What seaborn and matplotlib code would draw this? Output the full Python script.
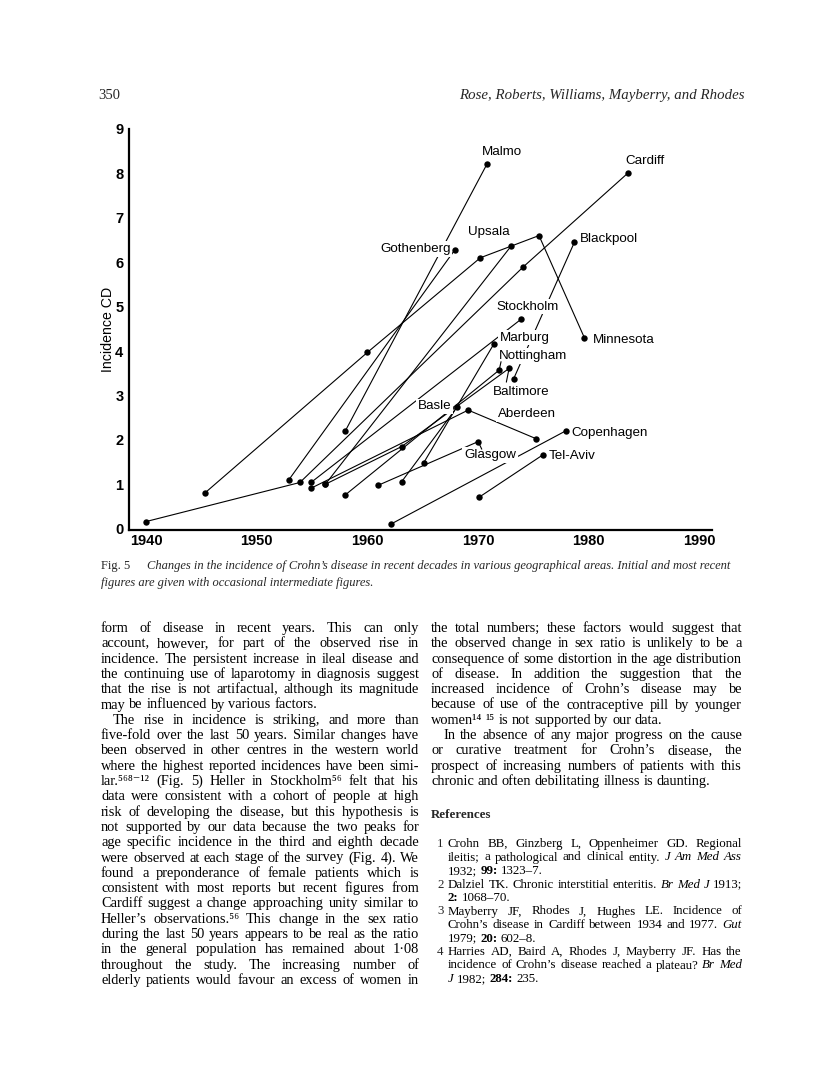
import numpy as np
import pandas as pd
import matplotlib
matplotlib.use("Agg")
import matplotlib.pyplot as plt
import seaborn as sns
from matplotlib import font_manager

# ---- values (year, incidence per 100 000) ----
cities = ["Cardiff", "Minnesota", "Gothenberg", "Malmo", "Upsala", "Stockholm",
          "Aberdeen", "Baltimore", "Nottingham", "Basle", "Marburg", "Blackpool",
          "Glasgow", "Copenhagen", "Tel-Aviv"]
years = [
    [1940, 1953.9, 1974.1, 1983.5],
    [1945.3, 1960, 1970.2, 1975.5, 1979.6],
    [1952.9, 1967.9],
    [1958, 1970.8],
    [1956.2, 1973],
    [1954.9, 1973.9],
    [1954.9, 1969.1, 1975.2],
    [1956.2, 1963.1, 1972.8],
    [1958, 1971.9],
    [1963.1, 1968.1],
    [1965.1, 1971.4],
    [1973.2, 1978.7],
    [1961, 1970],
    [1962.1, 1977.9],
    [1970.1, 1975.9],
]
incidence = [
    [0.16, 1.04, 5.9, 8.0],
    [0.8, 3.97, 6.1, 6.6, 4.3],
    [1.1, 6.28],
    [2.2, 8.21],
    [1.0, 6.37],
    [1.04, 4.72],
    [0.91, 2.67, 2.03],
    [1.0, 1.85, 3.61],
    [0.76, 3.57],
    [1.06, 2.74],
    [1.49, 4.15],
    [3.37, 6.45],
    [0.98, 1.96],
    [0.1, 2.2],
    [0.71, 1.67],
]
x_ticks = [1940, 1950, 1960, 1970, 1980, 1990]
y_ticks = list(range(10))

# where the city names sit (left edge, middle), in data units
label_pos = {
    "Malmo": (1970.33, 8.49), "Cardiff": (1983.27, 8.29), "Upsala": (1969.09, 6.69),
    "Gothenberg": (1961.14, 6.30), "Blackpool": (1979.2, 6.53),
    "Stockholm": (1971.68, 5.0), "Marburg": (1971.98, 4.30),
    "Minnesota": (1980.35, 4.25), "Nottingham": (1971.89, 3.89),
    "Baltimore": (1971.37, 3.07), "Basle": (1964.57, 2.76),
    "Aberdeen": (1971.8, 2.58), "Copenhagen": (1978.46, 2.15),
    "Glasgow": (1968.73, 1.66), "Tel-Aviv": (1976.4, 1.64),
}
# short leader strokes from a dot to its name
leaders = {
    "Nottingham": ((1971.9, 3.57), (1972.07, 3.76)),
    "Baltimore": ((1972.8, 3.61), (1972.55, 3.30)),
    "Glasgow": ((1970.0, 1.96), (1970.33, 1.79)),
}

rows = []
for city, xs, ys in zip(cities, years, incidence):
    for i, (xv, yv) in enumerate(zip(xs, ys)):
        rows.append({"city": city, "order": i, "year": xv, "incidence": yv})
df = pd.DataFrame(rows)

# ---- fonts ----
sns.set_theme(style="white")
names = {f.name for f in font_manager.fontManager.ttflist}
narrow = "Liberation Sans Narrow" if "Liberation Sans Narrow" in names else "Liberation Sans"
serif = ["Liberation Serif", "DejaVu Serif"]
plt.rcParams["font.family"] = ["Liberation Sans", "DejaVu Sans"]

W, H = 816, 1075
fig = plt.figure(figsize=(W / 100, H / 100), dpi=100)
fig.patch.set_facecolor("white")

# ---- the chart ----
ax = fig.add_axes([129 / W, 1 - 530 / H, (712 - 129) / W, (530 - 129) / H])
sns.lineplot(data=df, x="year", y="incidence", units="city", estimator=None,
             sort=False, color="black", lw=0.8, marker="o", markersize=4.6,
             markeredgewidth=0, ax=ax, legend=False, zorder=2)
for city, (p0, p1) in leaders.items():
    ax.plot([p0[0], p1[0]], [p0[1], p1[1]], color="black", lw=0.8, zorder=6)
for city, (lx, ly) in label_pos.items():
    ax.text(lx, ly, city, fontsize=9.6, ha="left", va="center", color="black",
            zorder=5, bbox=dict(boxstyle="square,pad=0.12", fc="white", ec="none"))

ax.set_xlim(1938.46, 1991.13)
ax.set_ylim(-0.03, 9.0)
ax.set_xticks(x_ticks)
ax.set_yticks(y_ticks)
ax.set_xticklabels([str(t) for t in x_ticks], family=narrow, weight="bold", fontsize=10.5)
ax.set_yticklabels([str(t) for t in y_ticks], family=narrow, weight="bold", fontsize=10.5)
ax.tick_params(axis="both", direction="out", length=2.5, width=1.0, color="black",
               pad=1.5, labelcolor="black")
ax.tick_params(axis="x", length=0, pad=3)
sns.despine(ax=ax)
for s in ("left", "bottom"):
    ax.spines[s].set_linewidth(1.6)
    ax.spines[s].set_color("black")
ax.set_xlabel("")
ax.set_ylabel("Incidence CD", fontsize=10.2, color="black")
ax.yaxis.set_label_coords(-0.024, 0.5)
ax.set_facecolor("none")

# ---- the page around it ----
page = fig.add_axes([0, 0, 1, 1], zorder=-1)
page.set_xlim(0, W)
page.set_ylim(H, 0)
page.axis("off")
renderer = fig.canvas.get_renderer()

STY = {"": {}, "~": {"style": "italic"}, "#": {"weight": "bold"}}


def width(txt, size, sty):
    t = page.text(0, 0, txt, fontsize=size, family=serif, **sty)
    w = t.get_window_extent(renderer).width
    t.remove()
    return w


def put_line(x0, x1, y, line, size, justify=True):
    words = []
    for w in line.split(" "):
        key = w[0] if w[0] in "~#" else ""
        words.append((w[len(key):], STY[key]))
    while True:
        ws = [width(w, size, s) for w, s in words]
        space = 0.25 * size * 100 / 72
        gap = space
        if justify and len(words) > 1:
            gap = (x1 - x0 - sum(ws)) / (len(words) - 1)
        if gap >= 0.5 * space:
            break
        size *= 0.98  # squeeze an over-full line a little
    x = x0
    for (w, s), wd in zip(words, ws):
        page.text(x, y, w, fontsize=size, family=serif, va="baseline", ha="left",
                  color="black", **s)
        x += wd + gap


def fit_size(txt, target, sty):
    return 10 * target / width(txt, 10, sty)


# running head
page.text(98, 99, "350", fontsize=10.5, family=serif, va="baseline", ha="left")
head = "Rose, Roberts, Williams, Mayberry, and Rhodes"
page.text(745, 99, head, fontsize=fit_size(head, 285, STY["~"]), family=serif,
          style="italic", va="baseline", ha="right")

# caption
cap1 = ("Changes in the incidence of Crohn\u2019s disease in recent decades in various "
        "geographical areas. Initial and most recent")
cap2 = "figures are given with occasional intermediate figures."
cs = fit_size(cap1, 588, STY["~"])
page.text(101, 569, "Fig. 5", fontsize=cs, family=serif, va="baseline", ha="left")
page.text(147, 569, cap1, fontsize=cs, family=serif, style="italic", va="baseline")
page.text(101, 586, cap2, fontsize=cs, family=serif, style="italic", va="baseline")

left_col = [
    "form of disease in recent years. This can only",
    "account, however, for part of the observed rise in",
    "incidence. The persistent increase in ileal disease and",
    "the continuing use of laparotomy in diagnosis suggest",
    "that the rise is not artifactual, although its magnitude",
    "may be influenced by various factors.",
    "The rise in incidence is striking, and more than",
    "five-fold over the last 50 years. Similar changes have",
    "been observed in other centres in the western world",
    "where the highest reported incidences have been simi-",
    "lar.\u2075\u2076\u2078\u207b\u00b9\u00b2 (Fig. 5) Heller in Stockholm\u2075\u2076 felt that his",
    "data were consistent with a cohort of people at high",
    "risk of developing the disease, but this hypothesis is",
    "not supported by our data because the two peaks for",
    "age specific incidence in the third and eighth decade",
    "were observed at each stage of the survey (Fig. 4). We",
    "found a preponderance of female patients which is",
    "consistent with most reports but recent figures from",
    "Cardiff suggest a change approaching unity similar to",
    "Heller\u2019s observations.\u2075\u2076 This change in the sex ratio",
    "during the last 50 years appears to be real as the ratio",
    "in the general population has remained about 1\u00b708",
    "throughout the study. The increasing number of",
    "elderly patients would favour an excess of women in",
]
right_col = [
    "the total numbers; these factors would suggest that",
    "the observed change in sex ratio is unlikely to be a",
    "consequence of some distortion in the age distribution",
    "of disease. In addition the suggestion that the",
    "increased incidence of Crohn\u2019s disease may be",
    "because of use of the contraceptive pill by younger",
    "women\u00b9\u2074 \u00b9\u2075 is not supported by our data.",
    "In the absence of any major progress on the cause",
    "or curative treatment for Crohn\u2019s disease, the",
    "prospect of increasing numbers of patients with this",
    "chronic and often debilitating illness is daunting.",
]
left_last, left_indent = {5}, {6}
right_last, right_indent = {6, 10}, {7}

body_size, lead, top = 10.4, 15.3, 632
for i, line in enumerate(left_col):
    x0 = 101 + (12 if i in left_indent else 0)
    put_line(x0, 419, top + i * lead, line, body_size, justify=i not in left_last)
for i, line in enumerate(right_col):
    x0 = 431 + (12 if i in right_indent else 0)
    put_line(x0, 742, top + i * lead, line, body_size, justify=i not in right_last)

page.text(431, 818, "References", fontsize=9.3, family=serif, weight="bold",
          va="baseline")

refs = [
    ("1", ["Crohn BB, Ginzberg L, Oppenheimer GD. Regional",
           "ileitis; a pathological and clinical entity. ~J ~Am ~Med ~Ass",
           "1932; #99: 1323\u20137."]),
    ("2", ["Dalziel TK. Chronic interstitial enteritis. ~Br ~Med ~J 1913;",
           "#2: 1068\u201370."]),
    ("3", ["Mayberry JF, Rhodes J, Hughes LE. Incidence of",
           "Crohn\u2019s disease in Cardiff between 1934 and 1977. ~Gut",
           "1979; #20: 602\u20138."]),
    ("4", ["Harries AD, Baird A, Rhodes J, Mayberry JF. Has the",
           "incidence of Crohn\u2019s disease reached a plateau? ~Br ~Med",
           "~J 1982; #284: 235."]),
]
ref_size, ref_lead, y = 9.3, 13.5, 847
for num, lines in refs:
    page.text(437, y, num, fontsize=ref_size, family=serif, va="baseline")
    for j, line in enumerate(lines):
        put_line(448, 742, y, line, ref_size, justify=j < len(lines) - 1)
        y += ref_lead

fig.savefig("out.png", dpi=100, facecolor="white")
